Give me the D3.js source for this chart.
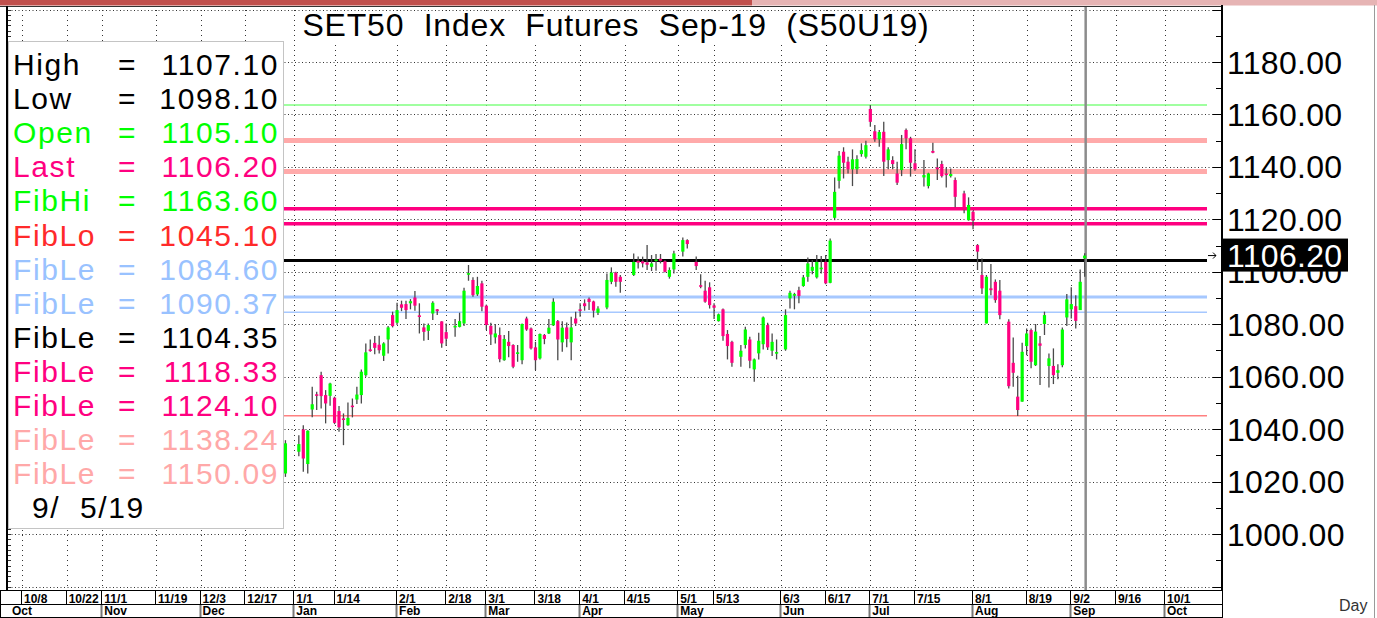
<!DOCTYPE html>
<html>
<head>
<meta charset="utf-8">
<script src="https://d3js.org/d3.v7.min.js"></script>
<style>
  body { margin: 0; background: #fff; }
  svg { display: block; font-family: "Liberation Sans", Arial, sans-serif; }
</style>
</head>
<body>
<div id="chart"></div>
<script>
const W = 1377, H = 618;

// trading calendar (weekdays minus exchange holidays)
const firstDay = "2018-12-28", lastDay = "2019-09-05";
const holidays = ["2018-12-31","2019-01-01","2019-02-19","2019-04-08","2019-04-15","2019-04-16",
  "2019-05-01","2019-05-06","2019-05-20","2019-06-03","2019-07-16","2019-07-29","2019-08-12"];

// OHLC, one value per trading day
const opens = [1023.1,1031.4,1039.9,1026.7,1047.5,1053.3,1060.6,1053.0,1052.7,1052.0,1046.9,1044.1,1041.5,1049.0,1051.3,1053.0,1060.6,1070.4,1072.9,1072.2,
  1068.0,1074.2,1083.5,1080.6,1087.6,1087.7,1088.0,1090.2,1083.4,1078.8,1077.5,1084.1,1085.7,1081.1,1077.0,1079.2,1079.0,1080.3,1099.3,1096.9,
  1091.4,1095.6,1087.1,1079.4,1075.0,1075.9,1066.3,1073.3,1072.1,1068.9,1066.3,1082.2,1078.4,1071.2,1067.0,1075.9,1076.5,1079.6,1081.2,1073.1,
  1078.8,1073.1,1082.2,1085.7,1088.0,1089.7,1088.7,1084.4,1086.4,1096.2,1099.7,1098.1,1098.8,1104.2,1104.0,1103.6,1101.9,1104.5,1105.0,1104.0,
  1098.1,1100.9,1107.7,1112.1,1103.8,1094.9,1092.8,1094.1,1087.2,1081.2,1085.7,1076.3,1073.3,1067.6,1072.1,1074.2,1062.8,1068.9,1072.4,1079.7,
  1069.9,1068.9,1070.4,1089.9,1091.0,1093.0,1094.6,1098.1,1100.4,1097.9,1101.5,1103.8,1095.8,1120.6,1134.7,1145.8,1142.0,1139.1,1139.1,1144.9,
  1143.9,1162.1,1153.6,1150.5,1153.4,1142.6,1142.6,1137.5,1138.8,1154.1,1150.9,1141.4,1136.0,1132.7,1146.1,1139.8,1141.1,1137.5,1136.5,1135.0,
  1129.9,1119.7,1122.9,1110.2,1098.8,1080.3,1093.7,1096.2,1092.8,1081.0,1065.3,1052.4,1050.5,1071.7,1077.8,1064.4,1072.7,1080.1,1064.1,1064.1,
  1061.5,1064.4,1082.6,1085.7,1086.9,1085.4,1105.1];
const highs = [1035.8,1037.7,1041.5,1039.6,1056.2,1054.3,1061.9,1054.9,1057.7,1052.4,1048.8,1046.0,1050.2,1051.7,1056.2,1062.8,1072.7,1074.2,1075.5,1075.6,
  1073.1,1079.3,1084.8,1088.2,1089.0,1089.0,1089.6,1092.7,1088.0,1080.3,1080.3,1088.8,1085.8,1081.2,1080.3,1082.0,1084.4,1093.9,1102.6,1097.9,
  1098.1,1096.6,1087.5,1080.6,1080.1,1078.8,1075.9,1077.4,1072.4,1072.1,1080.3,1082.9,1078.8,1073.3,1076.5,1076.3,1082.0,1089.9,1081.6,1081.2,
  1080.7,1082.9,1084.8,1088.0,1089.5,1090.2,1089.0,1086.9,1099.4,1101.7,1100.0,1098.8,1107.0,1105.8,1105.8,1110.2,1106.4,1106.8,1106.8,1104.5,
  1101.7,1108.0,1113.1,1112.4,1105.8,1099.1,1096.6,1096.0,1088.0,1084.1,1086.0,1077.8,1073.7,1072.1,1079.1,1075.2,1066.9,1076.8,1083.0,1080.6,
  1076.5,1074.2,1085.7,1092.8,1092.0,1094.3,1098.8,1105.5,1104.5,1106.4,1106.0,1106.4,1112.7,1136.0,1146.1,1147.5,1143.9,1146.7,1144.5,1149.0,
  1150.0,1163.6,1156.0,1154.1,1157.2,1147.5,1144.1,1142.0,1152.2,1154.7,1151.5,1146.7,1142.6,1137.8,1149.2,1143.2,1142.4,1139.8,1139.4,1136.0,
  1130.9,1128.4,1123.3,1110.6,1105.1,1098.8,1103.0,1097.1,1096.9,1081.9,1075.0,1060.4,1073.0,1078.4,1078.4,1080.1,1075.5,1084.8,1068.9,1070.8,
  1064.8,1078.8,1091.5,1094.1,1091.1,1100.9,1107.1];
const lows = [1021.8,1029.7,1023.8,1023.1,1044.5,1047.3,1047.9,1042.2,1048.9,1041.9,1039.0,1033.9,1041.3,1044.5,1049.6,1049.8,1060.0,1069.5,1068.6,1068.9,
  1066.0,1068.9,1078.8,1080.1,1085.0,1082.0,1085.7,1085.2,1076.5,1073.7,1074.0,1081.6,1083.5,1071.0,1071.7,1075.2,1078.8,1079.3,1096.6,1090.5,
  1090.8,1085.0,1077.8,1072.1,1072.7,1065.5,1066.1,1067.4,1063.2,1065.7,1064.8,1077.5,1070.4,1062.5,1066.6,1072.4,1076.3,1079.3,1066.3,1069.5,
  1071.2,1066.3,1079.3,1082.9,1085.2,1085.4,1082.6,1083.5,1085.7,1095.3,1094.3,1092.0,1098.4,1101.3,1101.7,1100.7,1100.3,1100.4,1103.2,1099.7,
  1097.4,1099.4,1105.8,1108.9,1100.7,1093.7,1088.2,1086.0,1082.0,1081.0,1073.7,1066.6,1063.8,1063.8,1070.8,1063.2,1058.1,1066.6,1070.4,1070.2,
  1067.9,1066.6,1069.9,1086.0,1085.7,1088.0,1094.3,1096.2,1099.1,1097.5,1099.4,1095.3,1095.6,1119.7,1131.8,1135.6,1137.5,1132.7,1137.3,1143.9,
  1143.2,1155.3,1149.6,1147.7,1136.5,1139.1,1139.1,1133.1,1136.5,1146.7,1136.3,1138.5,1132.5,1131.8,1145.2,1135.0,1136.0,1132.2,1136.0,1124.6,
  1122.3,1119.5,1116.2,1100.7,1091.5,1080.3,1091.1,1088.2,1081.9,1055.5,1056.2,1045.0,1050.5,1068.2,1063.2,1064.1,1056.8,1075.9,1055.9,1057.2,
  1059.0,1063.6,1079.3,1082.2,1078.4,1085.4,1098.1];
const closes = [1034.6,1034.3,1028.8,1039.4,1049.5,1052.7,1052.6,1049.8,1057.4,1042.4,1040.7,1043.5,1044.3,1048.7,1053.2,1061.9,1069.3,1069.9,1071.0,1070.1,
  1072.7,1078.8,1079.3,1085.4,1086.3,1085.4,1088.8,1087.1,1082.9,1077.1,1079.7,1088.2,1085.0,1072.7,1074.5,1079.4,1081.2,1092.8,1099.5,1091.1,
  1094.6,1086.7,1079.7,1076.1,1076.5,1066.7,1074.4,1071.7,1063.8,1069.3,1080.1,1078.0,1070.8,1066.3,1076.3,1074.4,1078.7,1088.6,1074.2,1078.7,
  1074.4,1078.8,1080.3,1085.2,1086.9,1088.5,1085.2,1086.0,1096.9,1099.7,1096.2,1096.2,1103.8,1103.5,1103.2,1102.7,1103.2,1104.7,1104.2,1100.0,
  1100.7,1107.0,1112.1,1110.6,1102.2,1094.3,1088.6,1087.3,1086.3,1083.8,1075.5,1071.7,1065.3,1069.9,1078.0,1066.1,1066.6,1073.7,1082.6,1071.2,
  1073.3,1069.4,1083.5,1092.0,1091.5,1090.8,1097.9,1103.2,1101.9,1103.8,1101.6,1095.6,1111.9,1130.5,1144.3,1141.6,1139.1,1142.9,1143.0,1146.4,
  1148.3,1157.2,1150.5,1153.3,1142.0,1146.7,1141.1,1134.0,1148.7,1150.9,1141.6,1139.1,1136.9,1137.5,1145.4,1139.1,1136.5,1136.9,1137.3,1128.6,
  1123.6,1125.5,1119.5,1107.7,1093.7,1098.1,1093.0,1089.2,1083.5,1056.4,1061.5,1047.3,1069.5,1076.5,1065.7,1077.2,1071.8,1083.5,1067.0,1060.6,
  1062.5,1078.0,1089.5,1087.7,1081.3,1096.2,1106.2];

// fibonacci levels
const fibValues = [1163.60,1045.10,1084.60,1090.37,1104.35,1118.33,1124.10,1138.24,1150.09];
const fibColors = ["#80ff80","#ff8080","#a6c8ff","#a6c8ff","#000000","#ff0080","#ff0080","#ffaaaa","#ffaaaa"];
const fibWidths = [1.5,1.5,1.5,3,3,3.5,3.5,5,5];

// legend rows
const legendLabels = ["High","Low","Open","Last","FibHi","FibLo","FibLe","FibLe","FibLe","FibLe","FibLe","FibLe","FibLe"];
const legendValues = ["1107.10","1098.10","1105.10","1106.20","1163.60","1045.10","1084.60","1090.37","1104.35","1118.33","1124.10","1138.24","1150.09"];
const legendColors = ["#000","#000","#00ff00","#ff0080","#00ff00","#ff2a2a","#99c2ff","#99c2ff","#000","#ff0080","#ff0080","#ffa8a8","#ffa8a8"];
const lastPrice = 1106.20;

// axis ticks
const dayTicks = ["2018-10-08","2018-10-22","2018-11-01","2018-11-19","2018-12-03","2018-12-17","2019-01-01","2019-01-14",
  "2019-02-01","2019-02-18","2019-03-01","2019-03-18","2019-04-01","2019-04-15","2019-05-01","2019-05-13","2019-06-03",
  "2019-06-17","2019-07-01","2019-07-15","2019-08-01","2019-08-19","2019-09-02","2019-09-16","2019-10-01"];
const monthTicks = ["2018-10-08","2018-11-01","2018-12-03","2019-01-01","2019-02-01","2019-03-01","2019-04-01","2019-05-01",
  "2019-06-03","2019-07-01","2019-08-01","2019-09-02","2019-10-01"];
const monthNames = ["Oct","Nov","Dec","Jan","Feb","Mar","Apr","May","Jun","Jul","Aug","Sep","Oct"];
const priceTicks = [1000,1020,1040,1060,1080,1100,1120,1140,1160,1180];

// weekday slot counted from Mon 2018-10-08
const origin = Date.UTC(2018, 9, 8);
function slot(s) {
  const days = Math.round((Date.parse(s + "T00:00:00Z") - origin) / 864e5);
  return Math.floor(days / 7) * 5 + Math.min(days % 7, 5);
}

const tradeDays = [];
for (let t = Date.parse(firstDay + "T00:00:00Z"); t <= Date.parse(lastDay + "T00:00:00Z"); t += 864e5) {
  const d = new Date(t), wd = d.getUTCDay(), s = d.toISOString().slice(0, 10);
  if (wd > 0 && wd < 6 && !holidays.includes(s)) tradeDays.push(s);
}
const bars = tradeDays.map((d, i) => ({ i: slot(d), o: opens[i], h: highs[i], l: lows[i], c: closes[i] }));

const plot = { left: 8, right: 1222, top: 7, bottom: 588 };
const x = d3.scaleLinear().domain([0, 238]).range([22, 22 + 238 * 4.465]);
const y = d3.scaleLinear().domain([980, 1200]).range([586.5, 9.6]);

const svg = d3.select("#chart").append("svg").attr("width", W).attr("height", H);

// top band
svg.append("rect").attr("x", 0).attr("y", 0).attr("width", 752).attr("height", 5.5).attr("fill", "#c0504d");
svg.append("rect").attr("x", 752).attr("y", 0).attr("width", W - 752).attr("height", 5.5).attr("fill", "#e6b4b4");
svg.append("line").attr("x1", 0).attr("x2", plot.right).attr("y1", 6.5).attr("y2", 6.5).attr("stroke", "#333");

// grid
const grid = svg.append("g").attr("stroke", "#333").attr("stroke-width", 1);
grid.selectAll("line.h").data(d3.range(980, 1201, 20)).join("line")
  .attr("x1", plot.left).attr("x2", plot.right)
  .attr("y1", d => Math.round(y(d)) + 0.5).attr("y2", d => Math.round(y(d)) + 0.5)
  .attr("stroke-dasharray", "1,2.5");
grid.selectAll("line.v").data(dayTicks).join("line")
  .attr("x1", d => Math.round(x(slot(d))) + 0.5).attr("x2", d => Math.round(x(slot(d))) + 0.5)
  .attr("y1", 10).attr("y2", plot.bottom)
  .attr("stroke-dasharray", "1,4");

// left minor ticks
svg.append("g").selectAll("line").data(d3.range(980, 1201, 2)).join("line")
  .attr("x1", plot.left).attr("x2", plot.left + 3)
  .attr("y1", d => Math.round(y(d)) + 0.5).attr("y2", d => Math.round(y(d)) + 0.5)
  .attr("stroke", "#333");

// fib level lines
svg.append("g").selectAll("line").data(fibValues).join("line")
  .attr("x1", plot.left).attr("x2", 1207)
  .attr("y1", d => y(d)).attr("y2", d => y(d))
  .attr("stroke", (d, i) => fibColors[i]).attr("stroke-width", (d, i) => fibWidths[i]);

// current day cursor
svg.append("line").attr("x1", x(238) + 1).attr("x2", x(238) + 1).attr("y1", plot.top).attr("y2", plot.bottom + 2)
  .attr("stroke", "#8c8c8c").attr("stroke-width", 2.5);

// candles
const cg = svg.append("g");
cg.selectAll("line").data(bars).join("line")
  .attr("x1", d => x(d.i)).attr("x2", d => x(d.i))
  .attr("y1", d => y(d.h)).attr("y2", d => y(d.l))
  .attr("stroke", "#4a4a4a").attr("stroke-width", 1.3);
cg.selectAll("rect").data(bars).join("rect")
  .attr("x", d => x(d.i) - 1.6).attr("width", 3.2)
  .attr("y", d => y(Math.max(d.o, d.c)))
  .attr("height", d => Math.max(1.6, Math.abs(y(d.o) - y(d.c))))
  .attr("fill", d => d.c >= d.o ? "#00ff00" : "#ff0080");

// plot left border
svg.append("line").attr("x1", 7).attr("x2", 7).attr("y1", 6).attr("y2", 591).attr("stroke", "#000").attr("stroke-width", 2);

// title
svg.append("rect").attr("x", 298).attr("y", 12).attr("width", 636).attr("height", 33).attr("fill", "#fff");
svg.append("text").attr("x", 616).attr("y", 36).attr("text-anchor", "middle")
  .attr("font-size", 32).attr("letter-spacing", 0.8).style("white-space", "pre")
  .text("SET50  Index  Futures  Sep-19  (S50U19)");

// legend box
svg.append("rect").attr("x", 8.5).attr("y", 41.5).attr("width", 275).attr("height", 487)
  .attr("fill", "#fff").attr("stroke", "#c4c4c4");
const lg = svg.append("g").attr("font-size", 30).attr("letter-spacing", 1.6);
legendLabels.forEach((lab, i) => {
  const by = 75 + i * 34.1;
  lg.append("text").attr("x", 13).attr("y", by).attr("fill", legendColors[i]).text(lab);
  lg.append("text").attr("x", 118).attr("y", by).attr("fill", legendColors[i]).text("=");
  lg.append("text").attr("x", 279).attr("y", by).attr("text-anchor", "end").attr("fill", legendColors[i]).text(legendValues[i]);
});
lg.append("text").attr("x", 32).attr("y", 75 + 13 * 34.1).style("white-space", "pre").text("9/  5/19");

// right axis
svg.append("rect").attr("x", plot.right).attr("y", 6).attr("width", W - plot.right).attr("height", H - 6).attr("fill", "#fff");
svg.append("line").attr("x1", plot.right).attr("x2", plot.right).attr("y1", 5).attr("y2", H)
  .attr("stroke", "#000").attr("stroke-width", 2);
svg.append("line").attr("x1", 1374.5).attr("x2", 1374.5).attr("y1", 5).attr("y2", H).attr("stroke", "#9a9a9a");
svg.append("g").selectAll("line").data(d3.range(980, 1201, 10)).join("line")
  .attr("x1", d => d % 20 === 0 ? plot.right - 9 : plot.right - 6).attr("x2", plot.right)
  .attr("y1", d => Math.round(y(d)) + 0.5).attr("y2", d => Math.round(y(d)) + 0.5)
  .attr("stroke", "#000");
svg.append("g").attr("font-size", 32).selectAll("text").data(priceTicks).join("text")
  .attr("x", 1227).attr("y", d => y(d) + 11.5).attr("letter-spacing", 0.3)
  .text(d => d.toFixed(2));

// last price marker
svg.append("rect").attr("x", 1223).attr("y", y(lastPrice) - 17).attr("width", 125).attr("height", 33).attr("fill", "#000");
svg.append("text").attr("x", 1227).attr("y", y(lastPrice) + 11.5).attr("font-size", 32).attr("letter-spacing", 0.3)
  .attr("fill", "#fff").text(lastPrice.toFixed(2));
svg.append("path").attr("d", `M1208,${y(lastPrice)}h8m-3,-3l3,3l-3,3`).attr("fill", "none").attr("stroke", "#000");

// bottom date axis
const narrow = "'Liberation Sans Narrow', 'Arial Narrow', sans-serif";
const ax = svg.append("g");
ax.append("rect").attr("x", 0).attr("y", 590).attr("width", plot.right).attr("height", H - 590).attr("fill", "#fff");
[590.5, 604.5, 617.5].forEach(v => ax.append("line").attr("x1", 0).attr("x2", plot.right).attr("y1", v).attr("y2", v).attr("stroke", "#000"));
ax.append("line").attr("x1", 0.5).attr("x2", 0.5).attr("y1", 590).attr("y2", H).attr("stroke", "#000");
ax.selectAll("line.d").data(dayTicks).join("line")
  .attr("x1", d => Math.round(x(slot(d))) - 0.5).attr("x2", d => Math.round(x(slot(d))) - 0.5)
  .attr("y1", 591).attr("y2", 604).attr("stroke", "#000");
ax.selectAll("text.d").data(dayTicks).join("text")
  .attr("x", d => x(slot(d)) + 2).attr("y", 602.5)
  .attr("font-family", narrow).attr("font-weight", "bold").attr("font-size", 12)
  .text(d => +d.slice(5, 7) + "/" + +d.slice(8, 10));
ax.selectAll("line.m").data(monthTicks.slice(1)).join("line")
  .attr("x1", d => Math.round(x(slot(d))) - 0.5).attr("x2", d => Math.round(x(slot(d))) - 0.5)
  .attr("y1", 605).attr("y2", 617).attr("stroke", "#777").attr("stroke-width", 2);
ax.selectAll("text.m").data(monthTicks).join("text")
  .attr("x", (d, i) => i === 0 ? 12 : x(slot(d)) + 2).attr("y", 615)
  .attr("font-family", narrow).attr("font-weight", "bold").attr("font-size", 12)
  .text((d, i) => monthNames[i]);

svg.append("text").attr("x", 1339).attr("y", 611).attr("font-size", 16).attr("fill", "#333").text("Day");
</script>
</body>
</html>
